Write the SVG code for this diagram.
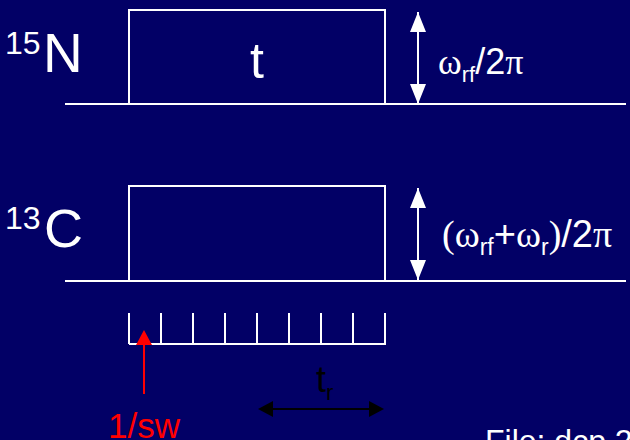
<svg xmlns="http://www.w3.org/2000/svg" width="630" height="440" viewBox="0 0 630 440">
<defs>
<style>
.w{stroke:#fff;stroke-width:2;fill:none}
.sans{font-family:"Liberation Sans",Arial,sans-serif}
.ser{font-family:"Liberation Serif","Times New Roman",serif}
.wt{fill:#fff}
</style>
</defs>
<rect width="630" height="440" fill="#020066"/>
<g id="n15">
<text class="sans wt" x="5" y="54" font-size="32">15</text>
<text class="sans wt" x="43" y="72" font-size="55">N</text>
<line class="w" x1="65" y1="104" x2="626" y2="104"/>
<rect class="w" x="129" y="10" width="256" height="94"/>
<text class="sans wt" x="257" y="78" font-size="50" text-anchor="middle">t</text>
</g>
<g id="c13">
<text class="sans wt" x="5" y="229" font-size="32">13</text>
<text class="sans wt" x="44" y="247" font-size="54">C</text>
<line class="w" x1="65" y1="281" x2="626" y2="281"/>
<rect class="w" x="129" y="186" width="256" height="95"/>
</g>
<g id="ticks">
<path class="w" d="M129,344 H386 M129,313 V344 M161,313 V344 M193,313 V344 M225,313 V344 M257,313 V344 M289,313 V344 M321,313 V344 M353,313 V344 M385,313 V344"/>
</g>
<g id="connectors">
<line x1="418" y1="12" x2="418" y2="104" stroke="#fff" stroke-width="2"/>
<path d="M418,12 L410,32 L426,32 z M418,104 L410,84 L426,84 z" fill="#fff"/>
<line x1="418" y1="188" x2="418" y2="280" stroke="#fff" stroke-width="2"/>
<path d="M418,188 L410,208 L426,208 z M418,280 L410,260 L426,260 z" fill="#fff"/>
<line x1="144" y1="394" x2="144" y2="345" stroke="#f00" stroke-width="2"/>
<path d="M144,330 L136,345 L152,345 z" fill="#f00"/>
<line x1="270" y1="409" x2="372" y2="409" stroke="#000" stroke-width="2"/>
<path d="M258,409 L273,401 L273,417 z M384,409 L369,401 L369,417 z" fill="#000"/>
</g>
<g id="labels">
<text class="wt" x="438" y="74" font-size="36"><tspan class="ser">ω</tspan><tspan class="sans" font-size="22" dy="8">rf</tspan><tspan class="sans" dy="-8">/2</tspan><tspan class="ser">π</tspan></text>
<text class="wt" x="442" y="247" font-size="38"><tspan class="ser">(ω</tspan><tspan class="sans" font-size="23" dy="8">rf</tspan><tspan class="sans" dy="-8">+</tspan><tspan class="ser">ω</tspan><tspan class="sans" font-size="23" dy="8">r</tspan><tspan class="ser" dy="-8">)</tspan><tspan class="sans">/2</tspan><tspan class="ser">π</tspan></text>
<text class="sans" x="316" y="392" font-size="36" fill="#000">t<tspan font-size="22" dy="8">r</tspan></text>
<text class="sans" x="108" y="438" font-size="35" fill="#f00">1/sw</text>
<text class="sans wt" x="485" y="452" font-size="32">File: dcp.2</text>
</g>
</svg>
